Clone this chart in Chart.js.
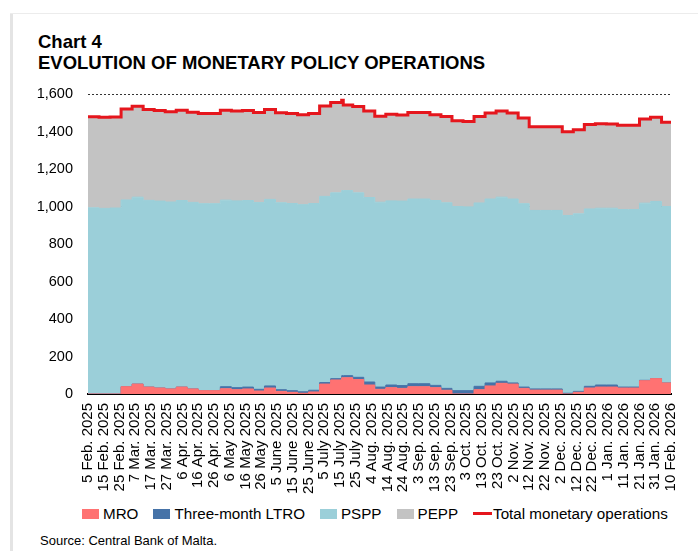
<!DOCTYPE html>
<html>

<head>
    <meta charset="utf-8">
    <title>Chart 4</title>
    <script src="https://cdn.jsdelivr.net/npm/chart.js"></script>
    <style>
        body {
            margin: 0;
            width: 698px;
            height: 551px;
            position: relative;
            overflow: hidden;
            background: #fff;
            font-family: Arial, "Liberation Sans", sans-serif;
            color: #000;
        }

        .frameLeft {
            position: absolute;
            left: 10px;
            top: 13px;
            width: 3px;
            height: 538px;
            background: #e4e4e4;
        }

        .frameTop {
            position: absolute;
            left: 10px;
            top: 13px;
            width: 688px;
            height: 1px;
            background: #ececec;
        }

        .title {
            position: absolute;
            left: 38px;
            font-weight: bold;
            font-size: 18.5px;
            line-height: 1;
            white-space: nowrap;
        }

        #chartBox {
            position: absolute;
            left: 0;
            top: 1px;
            width: 698px;
            height: 500px;
        }

        #legend {
            position: absolute;
            left: 82px;
            top: 505px;
            display: flex;
            align-items: center;
            font-size: 15.2px;
            line-height: 17px;
            white-space: nowrap;
        }

        .item {
            display: flex;
            align-items: center;
            margin-right: 15px;
        }

        .swatch {
            width: 17px;
            height: 10px;
            margin-right: 4px;
        }

        .swatch.line {
            width: 19px;
            height: 3px;
            margin-right: 1px;
        }

        #source {
            position: absolute;
            left: 40px;
            top: 533px;
            font-size: 13px;
            line-height: 16px;
        }
    </style>
</head>

<body>
    <div class="frameLeft"></div>
    <div class="frameTop"></div>
    <div class="title" style="top: 33px;">Chart 4</div>
    <div class="title" style="top: 54px;">EVOLUTION OF MONETARY POLICY OPERATIONS</div>

    <div id="chartBox"><canvas id="opsChart" width="698" height="500"></canvas></div>

    <div id="legend"></div>
    <div id="source">Source: Central Bank of Malta.</div>

    <script>
        // days since 5 Feb. 2025 (weekly settlements, plus the one-day overlap in mid-July)
        const days = [0, 7, 14, 21, 28, 35, 42, 49, 56, 63, 70, 77, 84, 91, 98, 105, 112, 119, 126, 133, 140, 147, 154,
            161, 162, 168, 175, 182, 189, 196, 203, 210, 217, 224, 231, 238, 245, 252, 259, 266, 273, 280, 287, 294,
            301, 308, 315, 322, 329, 336, 343, 350, 357, 364, 370];

        // EUR millions
        const mro = [0, 0, 0, 39, 53, 37, 32, 27, 37, 27, 18, 18, 28, 23, 27, 16, 32, 14, 9, 4, 11, 53, 75,
            87, 87, 77, 48, 25, 34, 30, 39, 39, 34, 20, 0, 0, 23, 43, 57, 53, 30, 21, 21, 21,
            0, 9, 32, 37, 37, 32, 32, 71, 82, 59, 59];
        const ltro = [0, 0, 0, 0, 0, 0, 0, 0, 0, 0, 0, 0, 11, 11, 10, 9, 11, 9, 9, 8, 9, 8, 7,
            11, 11, 12, 16, 12, 14, 15, 16, 16, 12, 10, 18, 18, 18, 16, 11, 6, 7, 6, 6, 6,
            4, 5, 9, 11, 11, 5, 5, 2, 0, 0, 0];
        const pspp = [993, 990, 992, 996, 997, 996, 997, 997, 995, 995, 997, 997, 995, 996, 995, 996, 995, 997, 998, 998, 996, 993, 991,
            987, 987, 984, 984, 986, 982, 984, 985, 985, 986, 990, 982, 980, 978, 981, 982, 981, 978, 952, 952, 952,
            948, 947, 946, 943, 943, 947, 947, 945, 945, 941, 941];
        const pepp = [486, 486, 486, 485, 485, 485, 483, 482, 482, 481, 481, 481, 480, 480, 480, 480, 480, 480, 480, 480, 480, 482, 482,
            482, 457, 461, 461, 459, 462, 459, 461, 461, 458, 460, 458, 456, 461, 459, 459, 459, 457, 447, 447, 447,
            447, 449, 450, 451, 449, 449, 449, 449, 449, 449, 449];
        const total = [1479, 1476, 1478, 1520, 1535, 1518, 1512, 1506, 1514, 1503, 1496, 1496, 1514, 1510, 1512, 1501, 1518, 1500, 1496, 1490, 1496, 1536, 1555,
            1567, 1542, 1534, 1509, 1482, 1492, 1488, 1501, 1501, 1490, 1480, 1458, 1454, 1480, 1499, 1509, 1499, 1472, 1426, 1426, 1426,
            1399, 1410, 1437, 1442, 1440, 1433, 1433, 1467, 1476, 1449, 1449];

        // one label every 10 days
        const tickLabels = ["5 Feb. 2025", "15 Feb. 2025", "25 Feb. 2025", "7 Mar. 2025", "17 Mar. 2025", "27 Mar. 2025",
            "6 Apr. 2025", "16 Apr. 2025", "26 Apr. 2025", "6 May 2025", "16 May 2025", "26 May 2025", "5 June 2025",
            "15 June 2025", "25 June 2025", "5 July 2025", "15 July 2025", "25 July 2025", "4 Aug. 2025", "14 Aug. 2025",
            "24 Aug. 2025", "3 Sep. 2025", "13 Sep. 2025", "23 Sep. 2025", "3 Oct. 2025", "13 Oct. 2025", "23 Oct. 2025",
            "2 Nov. 2025", "12 Nov. 2025", "22 Nov. 2025", "2 Dec. 2025", "12 Dec. 2025", "22 Dec. 2025", "1 Jan. 2026",
            "11 Jan. 2026", "21 Jan. 2026", "31 Jan. 2026", "10 Feb. 2026"];

        const seriesNames = ["MRO", "Three-month LTRO", "PSPP", "PEPP", "Total monetary operations"];
        const seriesColors = ["#ff7272", "#4673a8", "#9bcfd9", "#c3c3c3", "#e5161d"];

        const toPoints = (values) => days.map((d, i) => ({ x: d, y: values[i] }));

        const areaSet = (idx, values, fill) => ({
            label: seriesNames[idx],
            data: toPoints(values),
            backgroundColor: seriesColors[idx],
            borderColor: seriesColors[idx],
            borderWidth: 1,
            pointRadius: 0,
            stepped: true,
            fill: fill,
            stack: "ops",
        });

        const chart = new Chart(document.getElementById("opsChart"), {
            type: "line",
            data: {
                datasets: [
                    areaSet(0, mro, "origin"),
                    areaSet(1, ltro, "-1"),
                    areaSet(2, pspp, "-1"),
                    areaSet(3, pepp, "-1"),
                    {
                        label: seriesNames[4],
                        data: toPoints(total),
                        borderColor: seriesColors[4],
                        backgroundColor: seriesColors[4],
                        borderWidth: 3,
                        pointRadius: 0,
                        stepped: true,
                        fill: false,
                        stack: "total",
                        order: -1,
                    },
                ],
            },
            options: {
                responsive: false,
                animation: false,
                devicePixelRatio: 1,
                layout: { padding: { top: 93, right: 27, bottom: 0, left: 0 } },
                plugins: {
                    legend: { display: false },
                    tooltip: { enabled: false },
                },
                scales: {
                    x: {
                        type: "linear",
                        min: 0,
                        max: 370,
                        z: 1,
                        ticks: {
                            stepSize: 10,
                            autoSkip: false,
                            minRotation: 90,
                            maxRotation: 90,
                            padding: 9,
                            color: "#000",
                            font: { family: "Arial, 'Liberation Sans'", size: 15 },
                            callback: (v) => tickLabels[Math.round(v / 10)],
                        },
                        grid: { display: false, drawTicks: false },
                        border: { display: true, color: "#000", width: 2 },
                        afterFit: (s) => { s.height = 107; },
                    },
                    y: {
                        stacked: true,
                        min: 0,
                        max: 1600,
                        ticks: {
                            stepSize: 200,
                            padding: 15,
                            color: "#000",
                            font: { family: "Arial, 'Liberation Sans'", size: 14.5 },
                        },
                        grid: { color: "#333", lineWidth: 1, drawTicks: false },
                        border: { display: false, dash: [2, 2] },
                        afterFit: (s) => { s.width = 88; },
                    },
                },
            },
        });

        // legend in the same order as the source
        const legend = document.getElementById("legend");
        seriesNames.forEach((name, i) => {
            const item = document.createElement("div");
            item.className = "item";
            const sw = document.createElement("span");
            sw.className = i === 4 ? "swatch line" : "swatch";
            sw.style.background = seriesColors[i];
            item.appendChild(sw);
            item.appendChild(document.createTextNode(name));
            legend.appendChild(item);
        });
    </script>
</body>

</html>
